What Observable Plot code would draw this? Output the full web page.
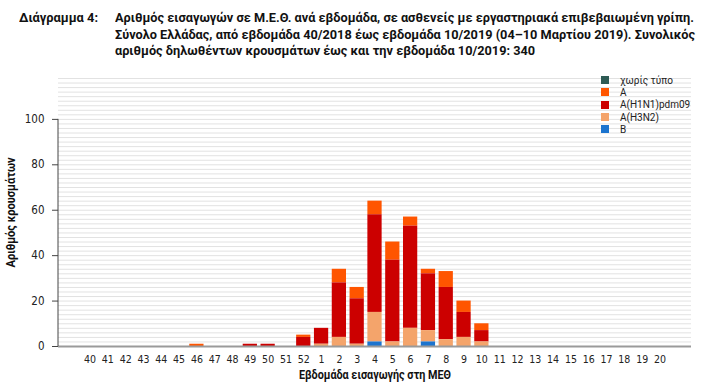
<!DOCTYPE html>
<html>
<head>
<meta charset="utf-8">
<script src="https://cdn.jsdelivr.net/npm/d3@7"></script>
<script src="https://cdn.jsdelivr.net/npm/@observablehq/plot@0.6"></script>
<style>
  body { margin: 0; background: #fff; }
  #wrap { position: relative; width: 707px; height: 386px; overflow: hidden; }
  #wrap svg { position: absolute; left: 0; top: 0; }
  .title { position: absolute; top: 9px; font-family: Roboto, "Noto Sans", sans-serif; font-weight: bold; font-size: 13.5px; line-height: 16.7px; color: #111; white-space: nowrap; transform-origin: 0 0; }
  #tlabel { left: 19px; }
  #ttext { left: 115px; }
  #legend { position: absolute; left: 601px; top: 74px; font-family: Roboto, "Noto Sans", sans-serif; font-size: 10px; color: #222; }
  #legend .row { display: flex; align-items: center; height: 12.3px; }
  #legend .sw { width: 8px; height: 8px; margin-right: 11px; }
</style>
</head>
<body>
<div id="wrap">
  <div class="title" id="tlabel">Διάγραμμα 4:</div>
  <div class="title" id="ttext">Αριθμός εισαγωγών σε Μ.Ε.Θ. ανά εβδομάδα, σε ασθενείς με εργαστηριακά επιβεβαιωμένη γρίπη.<br>Σύνολο Ελλάδας, από εβδομάδα 40/2018 έως εβδομάδα 10/2019 (04–10 Μαρτίου 2019). Συνολικός<br>αριθμός δηλωθέντων κρουσμάτων έως και την εβδομάδα 10/2019: 340</div>
  <div id="legend"></div>
</div>
<script>
// Weeks (40/2018 .. 20/2019)
const weeks = ["40","41","42","43","44","45","46","47","48","49","50","51","52",
               "1","2","3","4","5","6","7","8","9","10",
               "11","12","13","14","15","16","17","18","19","20"];

// Series names (legend order, top to bottom) and colours
const seriesNames  = ["χωρίς τύπο", "A", "A(H1N1)pdm09", "A(H3N2)", "B"];
const seriesColors = ["#2e5b55", "#ff5500", "#cc0000", "#f4a46b", "#1c74cf"];

// Values per week
const noType = [0,0,0,0,0,0,0,0,0,0,0,0,0, 0,0,0,0,0,0,0,0,0,0, 0,0,0,0,0,0,0,0,0,0];
const typeA  = [0,0,0,0,0,0,1,0,0,0,0,0,1, 0,6,5,6,8,4,2,7,5,3, 0,0,0,0,0,0,0,0,0,0];
const h1n1   = [0,0,0,0,0,0,0,0,0,1,1,0,4, 7,24,20,43,36,45,25,23,11,5, 0,0,0,0,0,0,0,0,0,0];
const h3n2   = [0,0,0,0,0,0,0,0,0,0,0,0,0, 1,4,1,13,2,8,5,3,4,2, 0,0,0,0,0,0,0,0,0,0];
const typeB  = [0,0,0,0,0,0,0,0,0,0,0,0,0, 0,0,0,2,0,0,2,0,0,0, 0,0,0,0,0,0,0,0,0,0];

const yTicks = [0, 20, 40, 60, 80, 100];
const xLabel = "Εβδομάδα εισαγωγής στη ΜΕΘ";
const yLabel = "Αριθμός κρουσμάτων";

const seriesValues = [noType, typeA, h1n1, h3n2, typeB];
const data = weeks.flatMap((w, i) =>
  seriesNames.map((s, j) => ({ week: w, series: s, value: seriesValues[j][i] })));
const stackOrder = seriesNames.slice().reverse();
const gridValues = d3.range(2, 119, 2);

const yAxisLine = (index, scales, values, dims) => {
  const l = document.createElementNS("http://www.w3.org/2000/svg", "line");
  l.setAttribute("x1", dims.marginLeft);
  l.setAttribute("x2", dims.marginLeft);
  l.setAttribute("y1", scales.y(yTicks[0]));
  l.setAttribute("y2", scales.y(yTicks[yTicks.length - 1]));
  l.setAttribute("stroke", "#444");
  l.setAttribute("stroke-width", "1");
  return l;
};

const font = '"DejaVu Sans Condensed", "DejaVu Sans", sans-serif';

const chart = Plot.plot({
  width: 707, height: 386,
  marginTop: 78, marginBottom: 40, marginLeft: 58, marginRight: 16,
  style: { fontFamily: font, fontSize: "10px", color: "#222", background: "transparent" },
  x: { domain: weeks, paddingInner: 0.2, paddingOuter: 1.37, round: false, label: null },
  y: { domain: [0, 118], label: null },
  color: { domain: seriesNames, range: seriesColors },
  marks: [
    Plot.ruleY(gridValues, { stroke: "#e2e2e2", strokeWidth: 1 }),
    Plot.barY(data, { x: "week", y: "value", fill: "series", order: stackOrder }),
    Plot.ruleY([0], { stroke: "#9a9a9a", strokeWidth: 2 }),
    yAxisLine,
    Plot.axisY({ ticks: yTicks, tickSize: 6, tickPadding: 8, fontSize: 11.5, stroke: "#444", label: null }),
    Plot.axisX({ tickSize: 0, tickPadding: 9, fontSize: 10.5, label: null }),
    Plot.text([xLabel], { frameAnchor: "bottom", dy: 32, fontWeight: "bold", fontSize: 12.5, fill: "#111", fontFamily: "Roboto, sans-serif", className: "xlab" }),
    Plot.text([yLabel], { frameAnchor: "left", rotate: -90, dx: -48, textAnchor: "middle", fontWeight: "bold", fontSize: 12.5, fill: "#111", fontFamily: "Roboto, sans-serif", className: "ylab" })
  ]
});
document.getElementById("wrap").prepend(chart);

// condense axis labels to the reference's narrow bold face
const fitText = (sel, w) => {
  const t = chart.querySelector(sel + " text");
  if (t) { t.setAttribute("textLength", w); t.setAttribute("lengthAdjust", "spacingAndGlyphs"); }
};
fitText(".xlab", 152);
fitText(".ylab", 110);

// condense title lines to the reference widths
const fitDiv = (id, w) => {
  const el = document.getElementById(id);
  const nat = el.getBoundingClientRect().width;
  el.style.transform = `scaleX(${w / nat})`;
};
fitDiv("tlabel", 79);
fitDiv("ttext", 580);

const legend = document.getElementById("legend");
seriesNames.forEach((s, i) => {
  const row = document.createElement("div");
  row.className = "row";
  const sw = document.createElement("div");
  sw.className = "sw";
  sw.style.background = seriesColors[i];
  const t = document.createElement("span");
  t.textContent = s;
  row.append(sw, t);
  legend.append(row);
});
</script>
</body>
</html>
